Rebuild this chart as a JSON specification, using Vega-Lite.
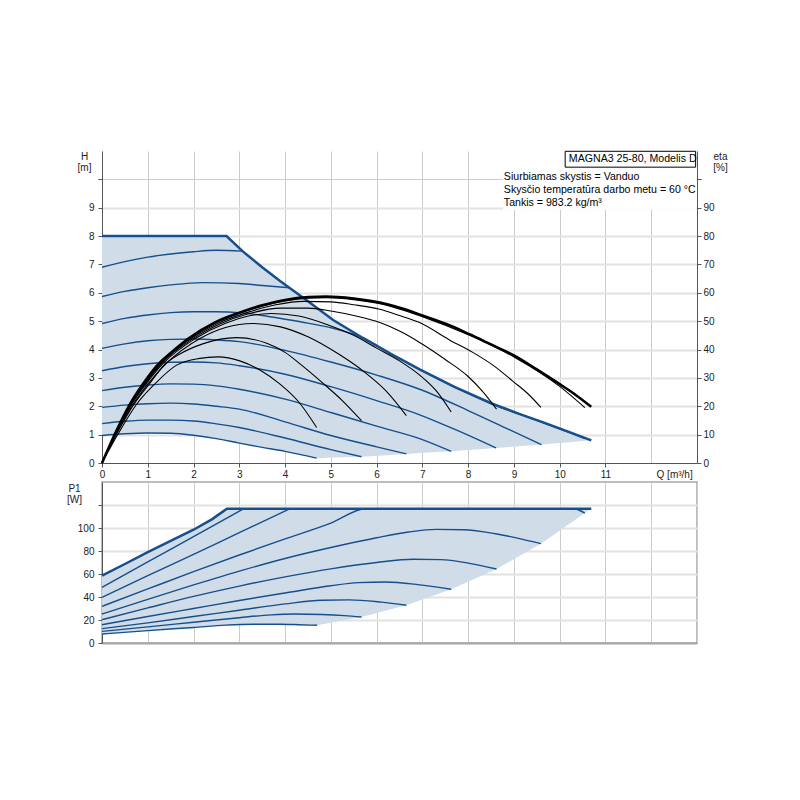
{
  "$schema": "https://vega.github.io/schema/vega-lite/v6.json",
  "padding": {"left": 65, "top": 150, "right": 5, "bottom": 5},
  "spacing": 19,
  "bounds": "flush",
  "config": {
    "view": {"stroke": null},
    "axis": {
      "labelFont": "Liberation Sans", "labelFontSize": 10, "labelColor": "#222",
      "titleFont": "Liberation Sans", "titleFontSize": 10, "titleFontWeight": "normal", "titleColor": "#222",
      "domainColor": "#555", "tickColor": "#555", "gridColor": "#cccccc",
      "labelOverlap": false, "tickCount": 30
    },
    "text": {"font": "Liberation Sans", "fontSize": 10.5, "color": "#000"}
  },
  "datasets": {
    "hArea": [
      {"q": 0, "top": 8, "bottom": 0.97}, {"q": 0.5, "top": 8, "bottom": 1.03}, {"q": 1, "top": 8, "bottom": 1.06},
      {"q": 1.5, "top": 8, "bottom": 1.05}, {"q": 2, "top": 8, "bottom": 0.98}, {"q": 2.5, "top": 8, "bottom": 0.86},
      {"q": 2.72, "top": 8, "bottom": 0.8}, {"q": 3.07, "top": 7.47, "bottom": 0.68}, {"q": 3.5, "top": 6.9, "bottom": 0.55},
      {"q": 3.89, "top": 6.42, "bottom": 0.44}, {"q": 4.47, "top": 5.74, "bottom": 0.26}, {"q": 4.69, "top": 5.47, "bottom": 0.17},
      {"q": 5.05, "top": 5.04, "bottom": 0.19}, {"q": 5.67, "top": 4.43, "bottom": 0.22}, {"q": 6.3, "top": 3.86, "bottom": 0.28},
      {"q": 6.65, "top": 3.56, "bottom": 0.32}, {"q": 6.94, "top": 3.3, "bottom": 0.35}, {"q": 7.63, "top": 2.73, "bottom": 0.41},
      {"q": 8.54, "top": 2.08, "bottom": 0.52}, {"q": 8.61, "top": 2.03, "bottom": 0.53}, {"q": 9.1, "top": 1.74, "bottom": 0.59},
      {"q": 9.6, "top": 1.45, "bottom": 0.65}, {"q": 10.2, "top": 1.1, "bottom": 0.73}, {"q": 10.69, "top": 0.8, "bottom": 0.8}
    ],
    "hCurves": [
      {"curve": "max", "q": 0, "h": 8}, {"curve": "max", "q": 2.72, "h": 8}, {"curve": "max", "q": 3.07, "h": 7.47},
      {"curve": "max", "q": 3.5, "h": 6.9}, {"curve": "max", "q": 3.89, "h": 6.42}, {"curve": "max", "q": 4.47, "h": 5.74},
      {"curve": "max", "q": 5.05, "h": 5.04}, {"curve": "max", "q": 5.71, "h": 4.4}, {"curve": "max", "q": 6.3, "h": 3.86},
      {"curve": "max", "q": 6.94, "h": 3.3}, {"curve": "max", "q": 7.7, "h": 2.68}, {"curve": "max", "q": 8.54, "h": 2.08},
      {"curve": "max", "q": 9.1, "h": 1.74}, {"curve": "max", "q": 9.64, "h": 1.43}, {"curve": "max", "q": 10.2, "h": 1.1},
      {"curve": "max", "q": 10.69, "h": 0.8},
      {"curve": "B", "q": 0, "h": 6.9}, {"curve": "B", "q": 0.5, "h": 7.1}, {"curve": "B", "q": 1, "h": 7.26},
      {"curve": "B", "q": 1.5, "h": 7.37}, {"curve": "B", "q": 2, "h": 7.45}, {"curve": "B", "q": 2.5, "h": 7.5}, {"curve": "B", "q": 3.07, "h": 7.47},
      {"curve": "C", "q": 0, "h": 5.87}, {"curve": "C", "q": 0.5, "h": 6.05}, {"curve": "C", "q": 1, "h": 6.18},
      {"curve": "C", "q": 1.5, "h": 6.28}, {"curve": "C", "q": 2.2, "h": 6.36}, {"curve": "C", "q": 3, "h": 6.33},
      {"curve": "C", "q": 3.5, "h": 6.26}, {"curve": "C", "q": 4.1, "h": 6.18},
      {"curve": "D", "q": 0, "h": 4.92}, {"curve": "D", "q": 0.5, "h": 5.1}, {"curve": "D", "q": 1, "h": 5.22},
      {"curve": "D", "q": 1.5, "h": 5.3}, {"curve": "D", "q": 2, "h": 5.33}, {"curve": "D", "q": 2.5, "h": 5.33},
      {"curve": "D", "q": 3, "h": 5.3}, {"curve": "D", "q": 3.5, "h": 5.2}, {"curve": "D", "q": 4, "h": 5.07},
      {"curve": "D", "q": 4.5, "h": 4.93}, {"curve": "D", "q": 5.05, "h": 4.75}, {"curve": "D", "q": 5.71, "h": 4.4},
      {"curve": "D", "q": 6.3, "h": 3.86}, {"curve": "D", "q": 6.94, "h": 3.3}, {"curve": "D", "q": 7.7, "h": 2.68},
      {"curve": "D", "q": 8.54, "h": 2.07}, {"curve": "D", "q": 9.1, "h": 1.73}, {"curve": "D", "q": 9.64, "h": 1.42},
      {"curve": "D", "q": 10.2, "h": 1.08}, {"curve": "D", "q": 10.55, "h": 0.86},
      {"curve": "E", "q": 0, "h": 4.04}, {"curve": "E", "q": 0.5, "h": 4.2}, {"curve": "E", "q": 1, "h": 4.31},
      {"curve": "E", "q": 1.5, "h": 4.36}, {"curve": "E", "q": 2, "h": 4.37}, {"curve": "E", "q": 2.5, "h": 4.34},
      {"curve": "E", "q": 3, "h": 4.28}, {"curve": "E", "q": 4, "h": 3.97}, {"curve": "E", "q": 5, "h": 3.56},
      {"curve": "E", "q": 6, "h": 3.1}, {"curve": "E", "q": 6.94, "h": 2.6}, {"curve": "E", "q": 8, "h": 1.85},
      {"curve": "E", "q": 8.8, "h": 1.25}, {"curve": "E", "q": 9.6, "h": 0.65},
      {"curve": "F", "q": 0, "h": 3.25}, {"curve": "F", "q": 0.5, "h": 3.4}, {"curve": "F", "q": 1, "h": 3.5},
      {"curve": "F", "q": 1.5, "h": 3.55}, {"curve": "F", "q": 2, "h": 3.56}, {"curve": "F", "q": 2.5, "h": 3.53},
      {"curve": "F", "q": 3, "h": 3.43}, {"curve": "F", "q": 4, "h": 3.13}, {"curve": "F", "q": 5, "h": 2.69},
      {"curve": "F", "q": 6, "h": 2.2}, {"curve": "F", "q": 6.94, "h": 1.7}, {"curve": "F", "q": 7.8, "h": 1.12}, {"curve": "F", "q": 8.61, "h": 0.53},
      {"curve": "G", "q": 0, "h": 2.55}, {"curve": "G", "q": 0.5, "h": 2.67}, {"curve": "G", "q": 1, "h": 2.75},
      {"curve": "G", "q": 1.5, "h": 2.79}, {"curve": "G", "q": 2, "h": 2.78}, {"curve": "G", "q": 2.5, "h": 2.72},
      {"curve": "G", "q": 3, "h": 2.6}, {"curve": "G", "q": 4, "h": 2.25}, {"curve": "G", "q": 5, "h": 1.78},
      {"curve": "G", "q": 6, "h": 1.3}, {"curve": "G", "q": 6.94, "h": 0.86}, {"curve": "G", "q": 7.63, "h": 0.41},
      {"curve": "H", "q": 0, "h": 1.96}, {"curve": "H", "q": 0.5, "h": 2.04}, {"curve": "H", "q": 1, "h": 2.09},
      {"curve": "H", "q": 1.5, "h": 2.11}, {"curve": "H", "q": 2, "h": 2.08}, {"curve": "H", "q": 2.5, "h": 2.0},
      {"curve": "H", "q": 3, "h": 1.9}, {"curve": "H", "q": 4, "h": 1.45}, {"curve": "H", "q": 5, "h": 0.97},
      {"curve": "H", "q": 6, "h": 0.57}, {"curve": "H", "q": 6.65, "h": 0.32},
      {"curve": "I", "q": 0, "h": 1.39}, {"curve": "I", "q": 0.5, "h": 1.47}, {"curve": "I", "q": 1, "h": 1.51},
      {"curve": "I", "q": 1.5, "h": 1.51}, {"curve": "I", "q": 2, "h": 1.48}, {"curve": "I", "q": 2.5, "h": 1.38},
      {"curve": "I", "q": 3, "h": 1.25}, {"curve": "I", "q": 4, "h": 0.88}, {"curve": "I", "q": 5, "h": 0.47}, {"curve": "I", "q": 5.67, "h": 0.22},
      {"curve": "J", "q": 0, "h": 0.97}, {"curve": "J", "q": 0.5, "h": 1.03}, {"curve": "J", "q": 1, "h": 1.06},
      {"curve": "J", "q": 1.5, "h": 1.05}, {"curve": "J", "q": 2, "h": 0.98}, {"curve": "J", "q": 2.5, "h": 0.86},
      {"curve": "J", "q": 3, "h": 0.7}, {"curve": "J", "q": 3.5, "h": 0.55}, {"curve": "J", "q": 4, "h": 0.41}, {"curve": "J", "q": 4.69, "h": 0.17}
    ],
    "eta": [
      {"curve": "max", "q": 0, "eta": 0}, {"curve": "max", "q": 0.28, "eta": 10.2}, {"curve": "max", "q": 0.61, "eta": 20.8},
      {"curve": "max", "q": 0.89, "eta": 27.8}, {"curve": "max", "q": 1.23, "eta": 34.9}, {"curve": "max", "q": 1.5, "eta": 38.8},
      {"curve": "max", "q": 1.88, "eta": 43.8}, {"curve": "max", "q": 2.47, "eta": 49.6}, {"curve": "max", "q": 3.0, "eta": 53},
      {"curve": "max", "q": 3.5, "eta": 55.6}, {"curve": "max", "q": 4.0, "eta": 57.5}, {"curve": "max", "q": 4.5, "eta": 58.5},
      {"curve": "max", "q": 4.9, "eta": 58.7}, {"curve": "max", "q": 5.5, "eta": 58}, {"curve": "max", "q": 6.07, "eta": 56.6},
      {"curve": "max", "q": 6.6, "eta": 54.3}, {"curve": "max", "q": 7.0, "eta": 52}, {"curve": "max", "q": 7.6, "eta": 48.5},
      {"curve": "max", "q": 8.03, "eta": 45.4}, {"curve": "max", "q": 8.5, "eta": 41.8}, {"curve": "max", "q": 9.02, "eta": 37.8},
      {"curve": "max", "q": 9.5, "eta": 33}, {"curve": "max", "q": 10, "eta": 27.8}, {"curve": "max", "q": 10.35, "eta": 24},
      {"curve": "max", "q": 10.69, "eta": 19.8},
      {"curve": "E7", "q": 0, "eta": 0}, {"curve": "E7", "q": 0.29, "eta": 10.2}, {"curve": "E7", "q": 0.62, "eta": 20.8},
      {"curve": "E7", "q": 0.9, "eta": 27.8}, {"curve": "E7", "q": 1.25, "eta": 34.9}, {"curve": "E7", "q": 1.9, "eta": 43.8},
      {"curve": "E7", "q": 2.5, "eta": 49.5}, {"curve": "E7", "q": 3.0, "eta": 52.8}, {"curve": "E7", "q": 3.5, "eta": 55.3},
      {"curve": "E7", "q": 4.0, "eta": 57.1}, {"curve": "E7", "q": 4.5, "eta": 58.1}, {"curve": "E7", "q": 4.9, "eta": 58.3},
      {"curve": "E7", "q": 5.5, "eta": 57.6}, {"curve": "E7", "q": 6.07, "eta": 56.2}, {"curve": "E7", "q": 7.0, "eta": 51.6},
      {"curve": "E7", "q": 8.03, "eta": 45}, {"curve": "E7", "q": 9.02, "eta": 37.2}, {"curve": "E7", "q": 10, "eta": 27},
      {"curve": "E7", "q": 10.55, "eta": 19.5},
      {"curve": "E6", "q": 0, "eta": 0}, {"curve": "E6", "q": 0.3, "eta": 10.4}, {"curve": "E6", "q": 0.64, "eta": 21},
      {"curve": "E6", "q": 0.93, "eta": 28}, {"curve": "E6", "q": 1.28, "eta": 35}, {"curve": "E6", "q": 1.95, "eta": 44},
      {"curve": "E6", "q": 2.55, "eta": 49.4}, {"curve": "E6", "q": 3.2, "eta": 53.2}, {"curve": "E6", "q": 3.8, "eta": 55.8},
      {"curve": "E6", "q": 4.4, "eta": 57}, {"curve": "E6", "q": 5.0, "eta": 56.8}, {"curve": "E6", "q": 5.5, "eta": 55.8},
      {"curve": "E6", "q": 6.07, "eta": 54.2}, {"curve": "E6", "q": 6.5, "eta": 52}, {"curve": "E6", "q": 6.94, "eta": 49.5},
      {"curve": "E6", "q": 7.6, "eta": 43.3}, {"curve": "E6", "q": 8.1, "eta": 39}, {"curve": "E6", "q": 8.54, "eta": 34.5},
      {"curve": "E6", "q": 8.98, "eta": 28.8}, {"curve": "E6", "q": 9.3, "eta": 24.5}, {"curve": "E6", "q": 9.59, "eta": 19.6},
      {"curve": "E5", "q": 0, "eta": 0}, {"curve": "E5", "q": 0.3, "eta": 10.3}, {"curve": "E5", "q": 0.65, "eta": 21},
      {"curve": "E5", "q": 0.95, "eta": 28}, {"curve": "E5", "q": 1.3, "eta": 35}, {"curve": "E5", "q": 2.0, "eta": 44},
      {"curve": "E5", "q": 2.6, "eta": 49.2}, {"curve": "E5", "q": 3.2, "eta": 52.6}, {"curve": "E5", "q": 3.9, "eta": 54.6},
      {"curve": "E5", "q": 4.5, "eta": 54.6}, {"curve": "E5", "q": 5.0, "eta": 53.6}, {"curve": "E5", "q": 5.5, "eta": 52},
      {"curve": "E5", "q": 6.07, "eta": 49.5}, {"curve": "E5", "q": 6.5, "eta": 46.5}, {"curve": "E5", "q": 6.94, "eta": 42.5},
      {"curve": "E5", "q": 7.5, "eta": 36.5}, {"curve": "E5", "q": 8.0, "eta": 30.5}, {"curve": "E5", "q": 8.3, "eta": 25.5},
      {"curve": "E5", "q": 8.62, "eta": 19},
      {"curve": "E4", "q": 0, "eta": 0}, {"curve": "E4", "q": 0.3, "eta": 10.2}, {"curve": "E4", "q": 0.66, "eta": 21},
      {"curve": "E4", "q": 0.97, "eta": 28}, {"curve": "E4", "q": 1.33, "eta": 35}, {"curve": "E4", "q": 2.05, "eta": 44},
      {"curve": "E4", "q": 2.7, "eta": 49.3}, {"curve": "E4", "q": 3.2, "eta": 51.8}, {"curve": "E4", "q": 3.7, "eta": 52.7},
      {"curve": "E4", "q": 4.3, "eta": 51.8}, {"curve": "E4", "q": 4.97, "eta": 48.5}, {"curve": "E4", "q": 5.5, "eta": 45},
      {"curve": "E4", "q": 6.0, "eta": 40.5}, {"curve": "E4", "q": 6.5, "eta": 36}, {"curve": "E4", "q": 6.94, "eta": 31},
      {"curve": "E4", "q": 7.3, "eta": 25.5}, {"curve": "E4", "q": 7.63, "eta": 18},
      {"curve": "E3", "q": 0, "eta": 0}, {"curve": "E3", "q": 0.31, "eta": 10.2}, {"curve": "E3", "q": 0.69, "eta": 21},
      {"curve": "E3", "q": 1.01, "eta": 28}, {"curve": "E3", "q": 1.4, "eta": 35}, {"curve": "E3", "q": 2.15, "eta": 44},
      {"curve": "E3", "q": 2.7, "eta": 47.8}, {"curve": "E3", "q": 3.3, "eta": 49.2}, {"curve": "E3", "q": 3.9, "eta": 48},
      {"curve": "E3", "q": 4.5, "eta": 44.5}, {"curve": "E3", "q": 5.17, "eta": 38.4}, {"curve": "E3", "q": 5.7, "eta": 32.5},
      {"curve": "E3", "q": 6.2, "eta": 25.5}, {"curve": "E3", "q": 6.65, "eta": 16.7},
      {"curve": "E2", "q": 0, "eta": 0}, {"curve": "E2", "q": 0.32, "eta": 10.2}, {"curve": "E2", "q": 0.71, "eta": 21},
      {"curve": "E2", "q": 1.04, "eta": 28}, {"curve": "E2", "q": 1.38, "eta": 34.9}, {"curve": "E2", "q": 1.7, "eta": 38.4},
      {"curve": "E2", "q": 2.2, "eta": 42}, {"curve": "E2", "q": 2.94, "eta": 44.2}, {"curve": "E2", "q": 3.6, "eta": 42.2},
      {"curve": "E2", "q": 4.0, "eta": 39}, {"curve": "E2", "q": 4.36, "eta": 34.5}, {"curve": "E2", "q": 4.8, "eta": 28.5},
      {"curve": "E2", "q": 5.25, "eta": 22}, {"curve": "E2", "q": 5.67, "eta": 14.9},
      {"curve": "E1", "q": 0, "eta": 0}, {"curve": "E1", "q": 0.35, "eta": 10.2}, {"curve": "E1", "q": 0.76, "eta": 20.8},
      {"curve": "E1", "q": 1.15, "eta": 27.8}, {"curve": "E1", "q": 1.63, "eta": 34.5}, {"curve": "E1", "q": 2.1, "eta": 36.8},
      {"curve": "E1", "q": 2.54, "eta": 37.4}, {"curve": "E1", "q": 3.01, "eta": 36}, {"curve": "E1", "q": 3.45, "eta": 32.8},
      {"curve": "E1", "q": 3.89, "eta": 27.8}, {"curve": "E1", "q": 4.3, "eta": 21.5}, {"curve": "E1", "q": 4.69, "eta": 12.5}
    ],
    "pArea": [
      {"q": 0, "top": 58.6, "bottom": 7.8}, {"q": 0.5, "top": 68.7, "bottom": 9.3}, {"q": 1, "top": 79, "bottom": 10.8},
      {"q": 1.5, "top": 88.7, "bottom": 12.2}, {"q": 2, "top": 98.5, "bottom": 13.5}, {"q": 2.4, "top": 107.5, "bottom": 14.7},
      {"q": 2.73, "top": 116.8, "bottom": 15.5}, {"q": 3.3, "top": 116.8, "bottom": 16.3}, {"q": 3.9, "top": 116.8, "bottom": 16.3},
      {"q": 4.3, "top": 116.8, "bottom": 15.9}, {"q": 4.7, "top": 116.8, "bottom": 15.4}, {"q": 5.67, "top": 116.8, "bottom": 22.6},
      {"q": 6.65, "top": 116.8, "bottom": 32.8}, {"q": 7.63, "top": 116.8, "bottom": 46.7}, {"q": 8.62, "top": 116.8, "bottom": 64.3},
      {"q": 9.59, "top": 116.8, "bottom": 86.4}, {"q": 10.55, "top": 116.8, "bottom": 113}, {"q": 10.69, "top": 116.8, "bottom": 116.8}
    ],
    "pCurves": [
      {"curve": "max", "q": 0, "p": 58.6}, {"curve": "max", "q": 0.5, "p": 68.7}, {"curve": "max", "q": 1, "p": 79},
      {"curve": "max", "q": 1.5, "p": 88.7}, {"curve": "max", "q": 2, "p": 98.5}, {"curve": "max", "q": 2.4, "p": 107.5},
      {"curve": "max", "q": 2.73, "p": 116.8}, {"curve": "max", "q": 10.69, "p": 116.8},
      {"curve": "B", "q": 0, "p": 48.4}, {"curve": "B", "q": 1, "p": 70.5}, {"curve": "B", "q": 2, "p": 92.5}, {"curve": "B", "q": 3.1, "p": 116.8},
      {"curve": "C", "q": 0, "p": 39.7}, {"curve": "C", "q": 1, "p": 58.5}, {"curve": "C", "q": 2, "p": 77}, {"curve": "C", "q": 3, "p": 96}, {"curve": "C", "q": 4.11, "p": 116.8},
      {"curve": "D", "q": 0, "p": 31.9}, {"curve": "D", "q": 1, "p": 47}, {"curve": "D", "q": 2, "p": 62}, {"curve": "D", "q": 3, "p": 76.5},
      {"curve": "D", "q": 4, "p": 90.5}, {"curve": "D", "q": 5, "p": 104.2}, {"curve": "D", "q": 5.76, "p": 116.8},
      {"curve": "D", "q": 10.3, "p": 116.8}, {"curve": "D", "q": 10.55, "p": 113},
      {"curve": "E", "q": 0, "p": 25.2}, {"curve": "E", "q": 1, "p": 38}, {"curve": "E", "q": 2, "p": 50.5}, {"curve": "E", "q": 3, "p": 62.5},
      {"curve": "E", "q": 4, "p": 73.5}, {"curve": "E", "q": 5, "p": 83}, {"curve": "E", "q": 6, "p": 91.5}, {"curve": "E", "q": 6.7, "p": 96.5},
      {"curve": "E", "q": 7.3, "p": 98.8}, {"curve": "E", "q": 7.9, "p": 98.5}, {"curve": "E", "q": 8.6, "p": 95}, {"curve": "E", "q": 9.1, "p": 91},
      {"curve": "E", "q": 9.59, "p": 86.4},
      {"curve": "F", "q": 0, "p": 20.3}, {"curve": "F", "q": 1, "p": 30.5}, {"curve": "F", "q": 2, "p": 40.5}, {"curve": "F", "q": 3, "p": 49.5},
      {"curve": "F", "q": 4, "p": 57.5}, {"curve": "F", "q": 5, "p": 64.5}, {"curve": "F", "q": 6, "p": 70}, {"curve": "F", "q": 6.8, "p": 72.8},
      {"curve": "F", "q": 7.4, "p": 72.5}, {"curve": "F", "q": 8, "p": 69.5}, {"curve": "F", "q": 8.62, "p": 64.3},
      {"curve": "G", "q": 0, "p": 15.9}, {"curve": "G", "q": 1, "p": 23}, {"curve": "G", "q": 2, "p": 30}, {"curve": "G", "q": 3, "p": 37},
      {"curve": "G", "q": 4, "p": 43.5}, {"curve": "G", "q": 5, "p": 49.8}, {"curve": "G", "q": 5.6, "p": 52.5}, {"curve": "G", "q": 6.2, "p": 53},
      {"curve": "G", "q": 6.9, "p": 50.8}, {"curve": "G", "q": 7.63, "p": 46.7},
      {"curve": "H", "q": 0, "p": 12.5}, {"curve": "H", "q": 1, "p": 17.5}, {"curve": "H", "q": 2, "p": 23}, {"curve": "H", "q": 3, "p": 28.5},
      {"curve": "H", "q": 4, "p": 34}, {"curve": "H", "q": 4.8, "p": 37.2}, {"curve": "H", "q": 5.4, "p": 37.5}, {"curve": "H", "q": 6.1, "p": 35.5},
      {"curve": "H", "q": 6.65, "p": 32.8},
      {"curve": "I", "q": 0, "p": 10.1}, {"curve": "I", "q": 1, "p": 14}, {"curve": "I", "q": 2, "p": 18}, {"curve": "I", "q": 3, "p": 22},
      {"curve": "I", "q": 3.7, "p": 24.5}, {"curve": "I", "q": 4.2, "p": 25.2}, {"curve": "I", "q": 4.8, "p": 24.8}, {"curve": "I", "q": 5.3, "p": 23.8},
      {"curve": "I", "q": 5.67, "p": 22.6},
      {"curve": "J", "q": 0, "p": 7.8}, {"curve": "J", "q": 1, "p": 10.8}, {"curve": "J", "q": 2, "p": 13.5}, {"curve": "J", "q": 2.7, "p": 15.5},
      {"curve": "J", "q": 3.3, "p": 16.3}, {"curve": "J", "q": 3.9, "p": 16.3}, {"curve": "J", "q": 4.3, "p": 15.9}, {"curve": "J", "q": 4.7, "p": 15.4}
    ]
  },
  "vconcat": [
    {
      "width": 595,
      "height": 312,
      "resolve": {"scale": {"y": "independent"}, "axis": {"y": "independent"}},
      "layer": [
        {
          "layer": [
            {
              "data": {"name": "hArea"},
              "mark": {"type": "area", "color": "#d0dce8", "opacity": 1},
              "encoding": {
                "x": {
                  "field": "q", "type": "quantitative",
                  "scale": {"domain": [0, 13], "nice": false},
                  "axis": {
                    "title": null, "tickCount": 30,
                    "values": [0, 1, 2, 3, 4, 5, 6, 7, 8, 9, 10, 11, 12, 12.5, 13],
                    "labelExpr": "datum.value == 12.5 ? 'Q [m³/h]' : (datum.value > 11 ? '' : '' + datum.value)",
                    "labelOverlap": false, "labelFlush": false,
                    "tickSize": 4, "labelPadding": 2,
                    "gridOpacity": {"condition": {"test": "datum.value == 12.5", "value": 0}, "value": 1},
                    "tickOpacity": {"condition": {"test": "datum.value > 11", "value": 0}, "value": 1}
                  }
                },
                "y": {
                  "field": "top", "type": "quantitative",
                  "scale": {"domain": [0, 11], "nice": false},
                  "axis": {
                    "values": [0, 1, 2, 3, 4, 5, 6, 7, 8, 9, 10], "tickCount": 30,
                    "labelExpr": "datum.value > 9 ? '' : '' + datum.value",
                    "labelOverlap": false,
                    "title": ["H", "[m]"], "titleAngle": 0, "titleAlign": "center", "titleBaseline": "top",
                    "titleX": -18, "titleY": 0, "titleLineHeight": 11,
                    "tickSize": 4, "labelPadding": 4,
                    "gridColor": {"condition": {"test": "datum.value <= 9", "value": "#e2e2e2"}, "value": "#cccccc"},
                    "gridWidth": {"condition": {"test": "datum.value <= 9 && datum.value > 0", "value": 2}, "value": 1}
                  }
                },
                "y2": {"field": "bottom"}
              }
            },
            {
              "data": {"values": [{}]},
              "mark": {"type": "rect", "color": "#ffffff"},
              "encoding": {
                "x": {"datum": 8.76, "type": "quantitative"},
                "x2": {"datum": 12.99},
                "y": {"datum": 8.93, "type": "quantitative"},
                "y2": {"datum": 11}
              }
            },
            {
              "data": {"name": "hCurves"},
              "transform": [{"filter": "datum.curve != 'max'"}],
              "mark": {"type": "line", "color": "#164f8c", "strokeWidth": 1.4, "interpolate": "monotone"},
              "encoding": {
                "x": {"field": "q", "type": "quantitative"},
                "y": {"field": "h", "type": "quantitative"},
                "detail": {"field": "curve"}
              }
            },
            {
              "data": {"name": "hCurves"},
              "transform": [{"filter": "datum.curve == 'max'"}],
              "mark": {"type": "line", "color": "#164f8c", "strokeWidth": 2.5, "interpolate": "linear"},
              "encoding": {
                "x": {"field": "q", "type": "quantitative"},
                "y": {"field": "h", "type": "quantitative"}
              }
            },
            {
              "data": {"values": [{}]},
              "mark": {"type": "rect", "fill": "#ffffff", "stroke": "#000000", "strokeWidth": 1},
              "encoding": {
                "x": {"datum": 10.12, "type": "quantitative"},
                "x2": {"datum": 12.97},
                "y": {"datum": 10.43, "type": "quantitative"},
                "y2": {"datum": 10.99}
              }
            },
            {
              "data": {"values": [{}]},
              "mark": {"type": "text", "text": "MAGNA3 25-80, Modelis D", "align": "left", "baseline": "alphabetic", "fontSize": 10.6},
              "encoding": {
                "x": {"datum": 10.2, "type": "quantitative"},
                "y": {"datum": 10.61, "type": "quantitative"}
              }
            },
            {
              "data": {"values": [{}]},
              "mark": {
                "type": "text",
                "text": ["Siurbiamas skystis = Vanduo", "Skysčio temperatūra darbo metu = 60 °C", "Tankis = 983.2 kg/m³"],
                "align": "left", "baseline": "alphabetic", "lineHeight": 12.7, "fontSize": 10.6
              },
              "encoding": {
                "x": {"datum": 8.78, "type": "quantitative"},
                "y": {"datum": 9.96, "type": "quantitative"}
              }
            }
          ]
        },
        {
          "data": {"name": "eta"},
          "layer": [
            {
              "transform": [{"filter": "datum.curve != 'max'"}],
              "mark": {"type": "line", "color": "#000000", "strokeWidth": 1.1, "interpolate": "monotone"},
              "encoding": {
                "x": {"field": "q", "type": "quantitative"},
                "y": {
                  "field": "eta", "type": "quantitative",
                  "scale": {"domain": [0, 110], "nice": false},
                  "axis": {
                    "orient": "right", "tickCount": 30,
                    "values": [0, 10, 20, 30, 40, 50, 60, 70, 80, 90, 100],
                    "labelExpr": "datum.value > 90 ? '' : '' + datum.value",
                    "labelOverlap": false,
                    "grid": false, "tickSize": 4, "labelPadding": 2,
                    "title": ["eta", "[%]"], "titleAngle": 0, "titleAlign": "center", "titleBaseline": "top",
                    "titleX": 23, "titleY": 0, "titleLineHeight": 11
                  }
                },
                "detail": {"field": "curve"}
              }
            },
            {
              "transform": [{"filter": "datum.curve == 'max'"}],
              "mark": {"type": "line", "color": "#000000", "strokeWidth": 2.5, "interpolate": "monotone"},
              "encoding": {
                "x": {"field": "q", "type": "quantitative"},
                "y": {"field": "eta", "type": "quantitative"}
              }
            }
          ]
        }
      ]
    },
    {
      "width": 595,
      "height": 161,
      "view": {"stroke": "#a6a6a6", "strokeWidth": 1.5},
      "layer": [
        {
          "data": {"name": "pArea"},
          "mark": {"type": "area", "color": "#d0dce8", "opacity": 1},
          "encoding": {
            "x": {
              "field": "q", "type": "quantitative",
              "scale": {"domain": [0, 13], "nice": false},
              "axis": {
                "title": null, "labels": false, "ticks": false, "tickCount": 30,
                "domainColor": "#a6a6a6", "domainWidth": 2,
                "values": [0, 1, 2, 3, 4, 5, 6, 7, 8, 9, 10, 11, 12, 13]
              }
            },
            "y": {
              "field": "top", "type": "quantitative",
              "scale": {"domain": [0, 140], "nice": false},
              "axis": {
                "values": [0, 20, 40, 60, 80, 100, 120], "tickCount": 30,
                "labelExpr": "datum.value > 100 ? '' : '' + datum.value",
                "labelOverlap": false,
                "title": ["P1", "[W]"], "titleAngle": 0, "titleAlign": "center", "titleBaseline": "top",
                "titleX": -28, "titleY": 1, "titleLineHeight": 11,
                "tickSize": 4, "labelPadding": 4,
                "gridColor": "#e2e2e2",
                "gridWidth": {"condition": {"test": "datum.value > 0", "value": 2}, "value": 1}
              }
            },
            "y2": {"field": "bottom"}
          }
        },
        {
          "data": {"name": "pCurves"},
          "transform": [{"filter": "datum.curve != 'max'"}],
          "mark": {"type": "line", "color": "#164f8c", "strokeWidth": 1.4, "interpolate": "monotone"},
          "encoding": {
            "x": {"field": "q", "type": "quantitative"},
            "y": {"field": "p", "type": "quantitative"},
            "detail": {"field": "curve"}
          }
        },
        {
          "data": {"name": "pCurves"},
          "transform": [{"filter": "datum.curve == 'max'"}],
          "mark": {"type": "line", "color": "#164f8c", "strokeWidth": 2.5, "interpolate": "linear"},
          "encoding": {
            "x": {"field": "q", "type": "quantitative"},
            "y": {"field": "p", "type": "quantitative"}
          }
        }
      ]
    }
  ]
}
